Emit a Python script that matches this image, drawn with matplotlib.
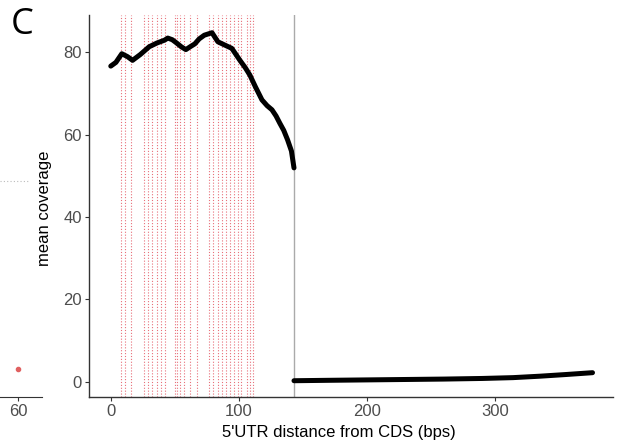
import matplotlib.pyplot as plt
import numpy as np

plt.rcParams['font.family'] = ['Liberation Sans', 'DejaVu Sans']

# black coverage curve, upstream part (up to the CDS boundary)
utr_x = [0, 4, 8.6, 13, 17, 23, 30, 36, 42, 44.5, 48, 51, 55, 58.6, 62, 65.6, 69, 73, 79,
         83.6, 89, 94.5, 100.8, 105, 108.6, 113, 118, 122, 125.8, 129, 132, 135, 138, 141, 143]
utr_y = [76.6, 77.5, 79.6, 78.9, 78.0, 79.4, 81.3, 82.2, 82.9, 83.4, 83.0, 82.3, 81.3, 80.6, 81.3,
         82.0, 83.2, 84.1, 84.7, 82.5, 81.7, 80.9, 78.0, 76.2, 74.4, 71.5, 68.4, 67.0, 66.0,
         64.5, 62.7, 61.0, 58.7, 56.0, 51.9]
# second segment after the boundary
cds_x = [143, 170, 200, 230, 260, 290, 314, 335, 355, 376]
cds_y = [0.25, 0.35, 0.45, 0.55, 0.65, 0.8, 1.0, 1.35, 1.75, 2.2]

boundary = 143
red_lines = [7.6, 10.9, 15.4, 25.8, 28.9, 32, 35.7, 39, 42, 50, 51.6, 54, 57, 61.7, 67,
             77, 79.7, 83.4, 86.5, 89.6, 93, 96, 99, 102, 106, 109, 111]

fig = plt.figure(figsize=(6.2, 4.44), dpi=100)
ax = fig.add_axes([89 / 620, 1 - 397 / 444, (613 - 89) / 620, (397 - 15) / 444])

for xv in red_lines:
    ax.axvline(xv, color='#e8707a', lw=0.8, ls=(0, (1, 1.6)), zorder=1)
ax.axvline(boundary, color='#aaaaaa', lw=1.0, zorder=2)

ax.plot(utr_x, utr_y, color='black', lw=3.6, solid_capstyle='round', zorder=3)
ax.plot(cds_x, cds_y, color='black', lw=3.6, solid_capstyle='round', zorder=3)

ax.set_xlim(-17, 392)
ax.set_ylim(-3.7, 89)
ax.set_xticks([0, 100, 200, 300])
ax.set_yticks([0, 20, 40, 60, 80])
for s in ['top', 'right']:
    ax.spines[s].set_visible(False)
for s in ['left', 'bottom']:
    ax.spines[s].set_color('#333333')
    ax.spines[s].set_linewidth(1.0)
ax.tick_params(colors='#333333', labelcolor='#4d4d4d', labelsize=12, length=3, pad=2)
ax.set_xlabel("5'UTR distance from CDS (bps)", fontsize=12)
ax.xaxis.set_label_coords((339 - 89) / (613 - 89), -28 / 382)
ax.set_ylabel("mean coverage", fontsize=12)
ax.yaxis.set_label_coords((52 - 89) / (613 - 89), (397 - 208) / 382)

# remnant of the neighbouring panel on the left
ax2 = fig.add_axes([0, 1 - 397 / 444, 42 / 620, (397 - 15) / 444])
ax2.set_xlim(52.5, 70)
ax2.set_ylim(-3.7, 89)
ax2.plot([60], [3.2], 'o', color='#e06060', ms=3)
ax2.plot([52.5, 65], [48.7, 48.7], color='#bbbbbb', lw=0.8, ls=(0, (1, 2)))
ax2.set_xticks([60])
ax2.set_yticks([])
for s in ['top', 'right', 'left']:
    ax2.spines[s].set_visible(False)
ax2.spines['bottom'].set_color('#333333')
ax2.tick_params(colors='#333333', labelcolor='#4d4d4d', labelsize=12, length=3, pad=2)
ax2.patch.set_alpha(0)

fig.text(11 / 620, 1 - 34 / 444, 'C', fontsize=26, family=['Open Sans', 'DejaVu Sans'])

fig.savefig('out.png', dpi=100)
